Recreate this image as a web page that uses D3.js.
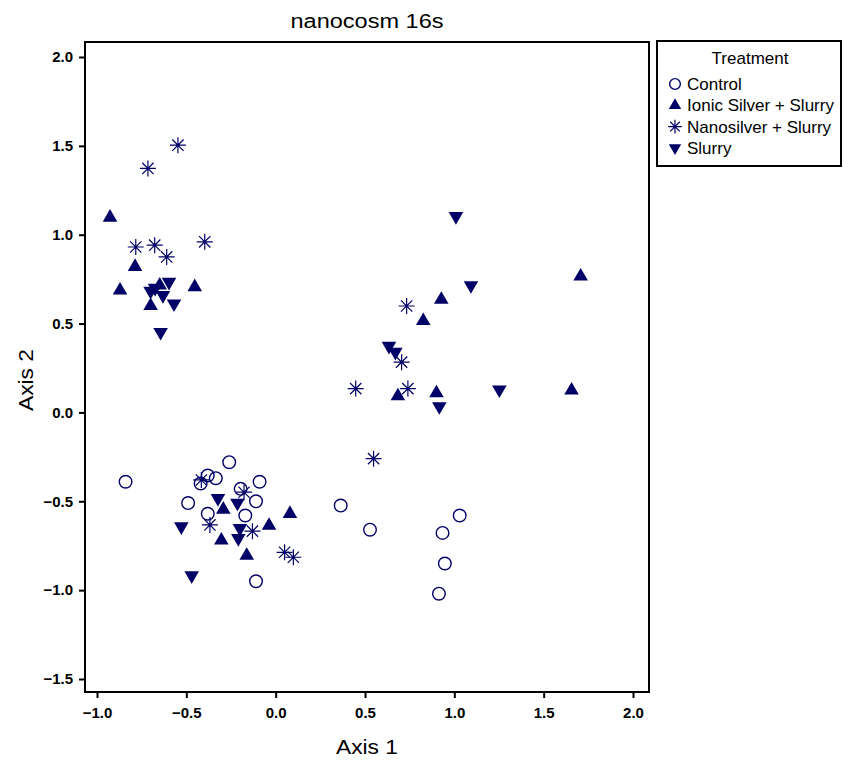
<!DOCTYPE html>
<html><head><meta charset="utf-8">
<script src="https://cdn.jsdelivr.net/npm/d3@7"></script>
<style>body{margin:0;background:#fff}svg{display:block}text{font-family:Arial,"Liberation Sans",sans-serif}</style>
</head><body><svg id="c" width="844" height="760"></svg>
<script>
const title = "nanocosm 16s";
const xLabel = "Axis 1", yLabel = "Axis 2";
const xTicks = [-1.0, -0.5, 0.0, 0.5, 1.0, 1.5, 2.0];
const yTicks = [-1.5, -1.0, -0.5, 0.0, 0.5, 1.0, 1.5, 2.0];
const groups = ["Control", "Ionic Silver + Slurry", "Nanosilver + Slurry", "Slurry"];
const control = [[-0.84,-0.39],[-0.26,-0.28],[-0.38,-0.355],[-0.335,-0.37],[-0.42,-0.40],[-0.09,-0.39],
  [-0.196,-0.43],[-0.11,-0.50],[-0.49,-0.51],[-0.38,-0.57],[-0.17,-0.58],[-0.11,-0.95],
  [0.364,-0.524],[0.528,-0.66],[1.03,-0.58],[0.934,-0.678],[0.947,-0.85],[0.914,-1.02]];
const ionic = [[-0.927,1.097],[-0.787,0.82],[-0.871,0.687],[-0.453,0.706],[-0.70,0.60],[-0.649,0.715],
  [-0.293,-0.546],[0.08,-0.57],[-0.037,-0.637],[-0.304,-0.72],[-0.162,-0.806],
  [1.707,0.766],[0.927,0.635],[0.826,0.515],[0.684,0.092],[0.90,0.109],[1.656,0.124]];
const nano = [[-0.547,1.504],[-0.715,1.373],[-0.783,0.931],[-0.677,0.941],[-0.61,0.875],[-0.397,0.96],
  [-0.416,-0.38],[-0.177,-0.449],[-0.368,-0.633],[-0.13,-0.668],[0.05,-0.787],[0.099,-0.815],
  [0.733,0.599],[0.705,0.283],[0.448,0.134],[0.74,0.134],[0.548,-0.26]];
const slurry = [[-0.70,0.683],[-0.631,0.659],[-0.597,0.734],[-0.569,0.612],[-0.644,0.452],[-0.675,0.70],
  [-0.323,-0.483],[-0.214,-0.509],[-0.528,-0.642],[-0.20,-0.652],[-0.209,-0.708],[-0.47,-0.918],
  [1.009,1.104],[1.093,0.715],[0.634,0.374],[0.67,0.34],[0.916,0.034],[1.252,0.128]];

const navy = "#000066";
const svg = d3.select("#c");
const box = {l:85, r:649, t:42, b:692};
const x = d3.scaleLinear().domain([-1, 2]).range([97, 633]);
const y = d3.scaleLinear().domain([-1.5, 2]).range([679, 57]);

svg.append("rect").attr("x",box.l).attr("y",box.t).attr("width",box.r-box.l).attr("height",box.b-box.t)
  .attr("fill","none").attr("stroke","#000").attr("stroke-width",2);

const xa = svg.append("g").attr("transform",`translate(0,${box.b})`)
  .call(d3.axisBottom(x).tickValues(xTicks).tickFormat(d3.format(".1f")).tickSize(6).tickPadding(9));
const ya = svg.append("g").attr("transform",`translate(${box.l},0)`)
  .call(d3.axisLeft(y).tickValues(yTicks).tickFormat(d3.format(".1f")).tickSize(6).tickPadding(6));
[xa, ya].forEach(a => {
  a.attr("font-size",15).attr("font-family","Arial, 'Liberation Sans', sans-serif");
  a.select(".domain").remove();
  a.selectAll(".tick line").attr("stroke","#000").attr("stroke-width",2);
  a.selectAll(".tick text").attr("fill","#000").attr("font-size",15).attr("font-weight","bold");
});
xa.selectAll(".tick line").attr("y1",1);
ya.selectAll(".tick line").attr("x1",-1);

svg.append("text").attr("x",(box.l+box.r)/2).attr("y",28).attr("text-anchor","middle")
  .attr("font-size",20).attr("textLength",153).attr("lengthAdjust","spacingAndGlyphs").text(title);
svg.append("text").attr("x",(box.l+box.r)/2).attr("y",754).attr("text-anchor","middle")
  .attr("font-size",20).attr("textLength",62).attr("lengthAdjust","spacingAndGlyphs").text(xLabel);
svg.append("text").attr("transform","translate(33,380) rotate(-90)").attr("text-anchor","middle")
  .attr("font-size",20).attr("textLength",62).attr("lengthAdjust","spacingAndGlyphs").text(yLabel);

function starPath(r){
  const d = r*Math.SQRT1_2;
  return `M${-r},0L${r},0M0,${-r}L0,${r}M${-d},${-d}L${d},${d}M${-d},${d}L${d},${-d}`;
}
function drawMarker(g, type, scale){
  const s = scale || 1;
  if(type===0){
    g.append("circle").attr("r",6.3*s).attr("fill","none").attr("stroke",navy).attr("stroke-width",1.4);
  } else if(type===1){
    g.append("path").attr("d",d3.symbol(d3.symbolTriangle, 92*s*s)()).attr("fill",navy);
  } else if(type===2){
    g.append("path").attr("d",starPath(8*s)).attr("fill","none").attr("stroke",navy).attr("stroke-width",1.2);
  } else {
    g.append("path").attr("d",d3.symbol(d3.symbolTriangle, 92*s*s)()).attr("transform","rotate(180)").attr("fill",navy);
  }
}
const plot = svg.append("g");
[control, ionic, nano, slurry].forEach((arr, gi) => {
  plot.selectAll(null).data(arr).enter().append("g")
    .attr("transform", d => `translate(${x(d[0])},${y(d[1])})`)
    .each(function(){ drawMarker(d3.select(this), gi); });
});

// legend
const lg = svg.append("g");
lg.append("rect").attr("x",657).attr("y",41).attr("width",184).attr("height",125)
  .attr("fill","#fff").attr("stroke","#000").attr("stroke-width",2);
lg.append("text").attr("x",750).attr("y",64).attr("text-anchor","middle").attr("font-size",17).text("Treatment");
groups.forEach((name, i) => {
  const cy = 84 + i*21.3;
  const g = lg.append("g").attr("transform",`translate(675,${cy})`);
  drawMarker(g, i, 0.85);
  lg.append("text").attr("x",687).attr("y",cy+6).attr("font-size",17).text(name);
});
</script></body></html>
